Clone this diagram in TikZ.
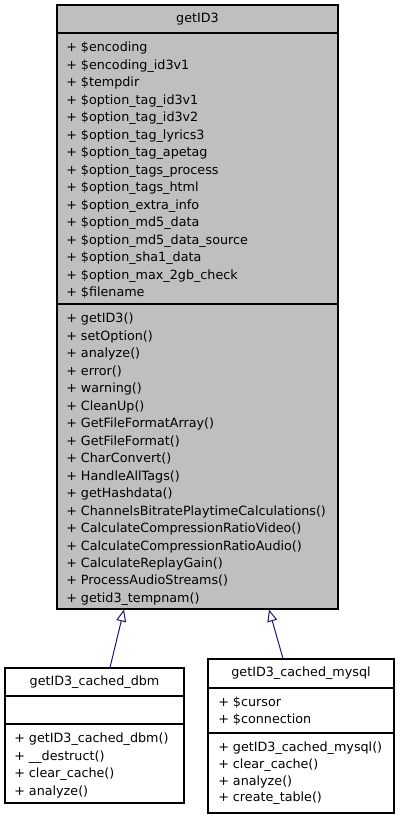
\documentclass[tikz,border=0pt]{standalone}
\usepackage{fontspec}
\setmainfont{DejaVu Sans}
\usepackage{tikz}
\usetikzlibrary{arrows.meta,positioning,calc,fit}
\definecolor{boxgray}{RGB}{191,191,191}
\definecolor{edgeblue}{RGB}{25,25,112}

\begin{document}
\begin{tikzpicture}[x=0.75pt,y=-0.75pt,
    classbox/.style={draw=black, line width=0.8pt, inner sep=0pt},
    members/.style={anchor=north west, inner sep=0pt, align=left,
      font=\fontsize{9.55}{13.1}\selectfont},
    classname/.style={inner sep=0pt, font=\fontsize{9.55}{13}\selectfont},
    inherit/.style={draw=edgeblue, line width=0.75pt,
      -{Triangle[open, length=9pt, width=7.5pt, fill=white]}}]
        \useasboundingbox (0,0) rectangle (400,819);
        % base class getID3
        \node[classbox, fill=boxgray, fit={(57,5) (338,609)}] (getid3) {};
        \draw[line width=0.8pt] (getid3.west |- 0,33) -- (getid3.east |- 0,33);
        \draw[line width=0.8pt] (getid3.west |- 0,304) -- (getid3.east |- 0,304);
        \node[classname] (getid3 name) at (197.5,19) {getID3};
        \node[members] (getid3 attrs) at (66,42) {%
          + \$encoding\\ + \$encoding\_id3v1\\ + \$tempdir\\
          + \$option\_tag\_id3v1\\ + \$option\_tag\_id3v2\\
          + \$option\_tag\_lyrics3\\ + \$option\_tag\_apetag\\
          + \$option\_tags\_process\\ + \$option\_tags\_html\\
          + \$option\_extra\_info\\ + \$option\_md5\_data\\
          + \$option\_md5\_data\_source\\ + \$option\_sha1\_data\\
          + \$option\_max\_2gb\_check\\ + \$filename};
        \node[members] (getid3 ops) at (66,313) {%
          + getID3()\\ + setOption()\\ + analyze()\\ + error()\\
          + warning()\\ + CleanUp()\\ + GetFileFormatArray()\\
          + GetFileFormat()\\ + CharConvert()\\ + HandleAllTags()\\
          + getHashdata()\\ + ChannelsBitratePlaytimeCalculations()\\
          + CalculateCompressionRatioVideo()\\
          + CalculateCompressionRatioAudio()\\ + CalculateReplayGain()\\
          + ProcessAudioStreams()\\ + getid3\_tempnam()};
        % derived class getID3_cached_dbm
        \node[classbox, fill=white, fit={(5,668) (184,803)}] (dbm) {};
        \draw[line width=0.8pt] (dbm.west |- 0,696) -- (dbm.east |- 0,696);
        \draw[line width=0.8pt] (dbm.west |- 0,724) -- (dbm.east |- 0,724);
        \node[classname] (dbm name) at (94.5,682) {getID3\_cached\_dbm};
        \node[members] (dbm ops) at (14,733) {%
          + getID3\_cached\_dbm()\\ + \_\_destruct()\\
          + clear\_cache()\\ + analyze()};
        % derived class getID3_cached_mysql
        \node[classbox, fill=white, fit={(208,659) (394,813)}] (mysql) {};
        \draw[line width=0.8pt] (mysql.west |- 0,688) -- (mysql.east |- 0,688);
        \draw[line width=0.8pt] (mysql.west |- 0,733) -- (mysql.east |- 0,733);
        \node[classname] (mysql name) at (301,673.5) {getID3\_cached\_mysql};
        \node[members] (mysql attrs) at (218,696.5) {%
          + \$cursor\\ + \$connection};
        \node[members, font=\fontsize{9.55}{12.4}\selectfont] (mysql ops)
          at (218,742) {%
          + getID3\_cached\_mysql()\\ + clear\_cache()\\
          + analyze()\\ + create\_table()};
        % inheritance
        \draw[inherit] (dbm.north -| 110,0) -- (getid3.south -| 124,0);
        \draw[inherit] (mysql.north -| 283,0) -- (getid3.south -| 269,0);
      \end{tikzpicture}
\end{document}
